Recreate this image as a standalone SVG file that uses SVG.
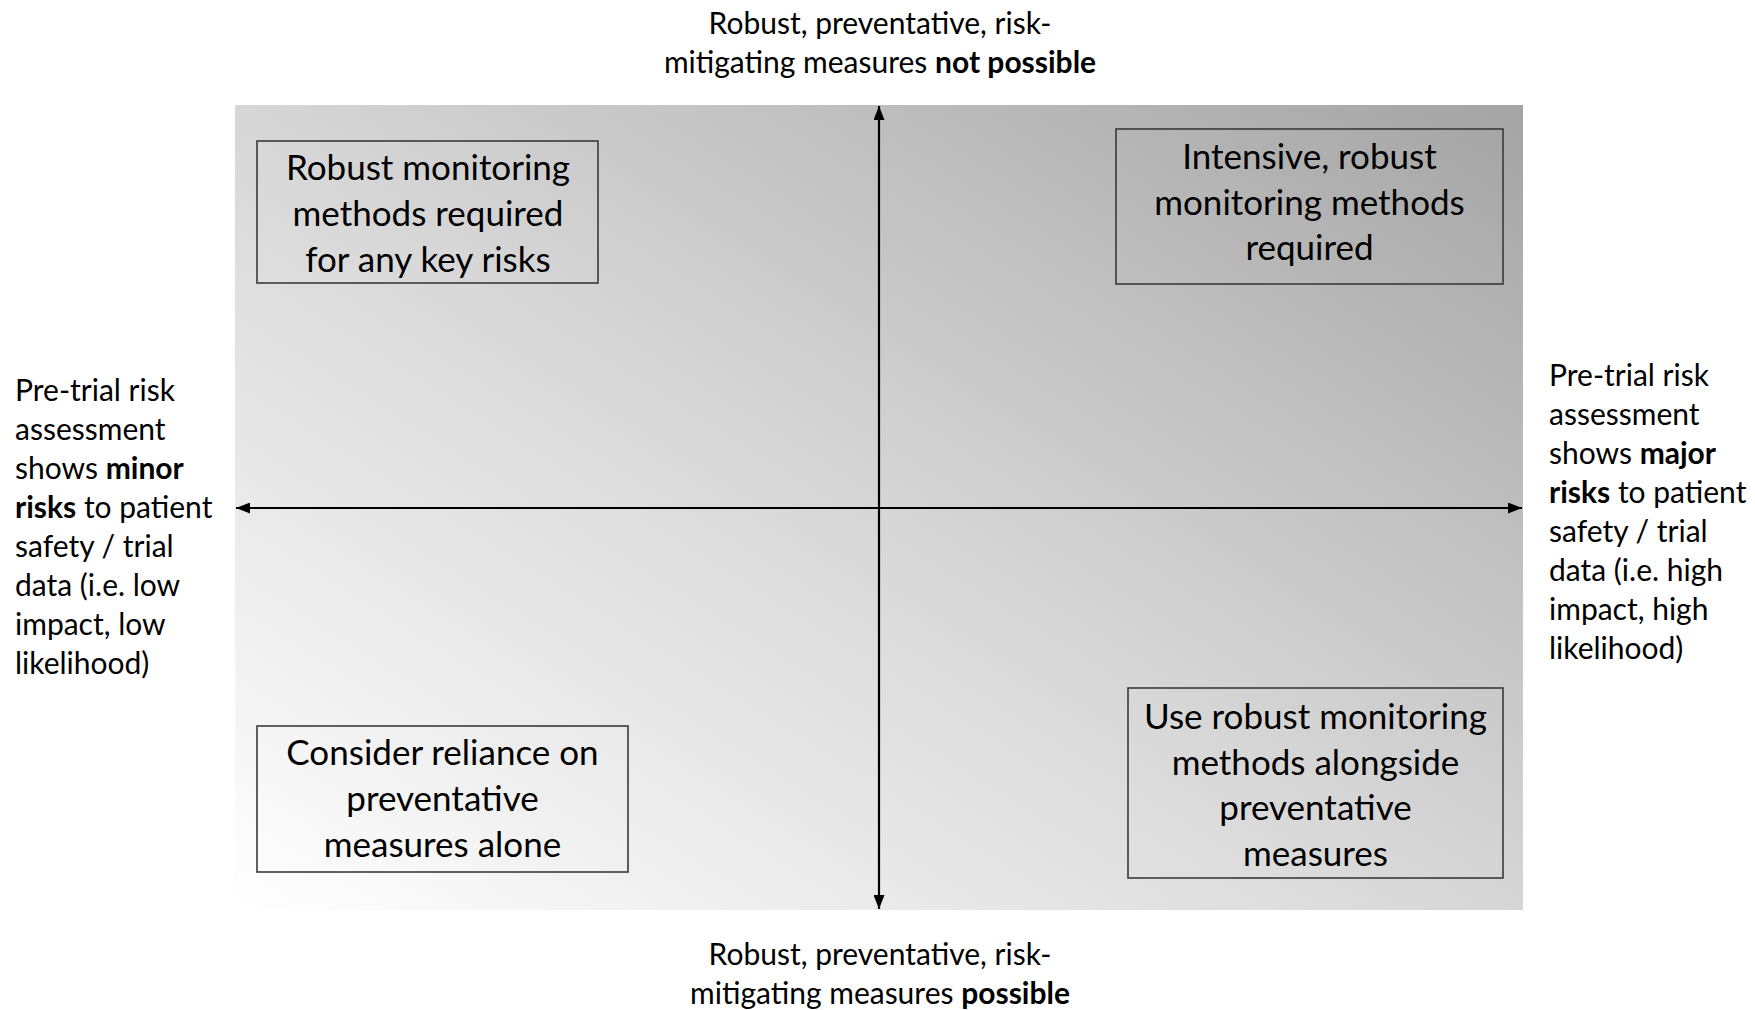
<svg xmlns="http://www.w3.org/2000/svg" width="1755" height="1010" viewBox="0 0 1755 1010">
<style>
text{font-family:Lato,"Liberation Sans",sans-serif;fill:#000}
.box{fill:none;stroke:#3a3a3a;stroke-width:1.6}
.bt{font-size:35px;text-anchor:middle}
.lab{font-size:30px}
.mid{text-anchor:middle}
.axis{stroke:#000;stroke-width:2.2;fill:none}
.b{font-weight:bold}
</style>
<defs>
<linearGradient id="bg" x1="0" y1="1" x2="1" y2="0">
<stop offset="0" stop-color="#ffffff"/>
<stop offset="0.5" stop-color="#d6d6d6"/>
<stop offset="1" stop-color="#a4a4a4"/>
</linearGradient>
<marker id="ah" viewBox="0 0 14 11" refX="14" refY="5.5" markerWidth="14" markerHeight="11" markerUnits="userSpaceOnUse" orient="auto-start-reverse">
<path d="M0,0 L14,5.5 L0,11 z" fill="#000"/>
</marker>
</defs>
<rect id="plane" x="235" y="105" width="1288" height="805" fill="url(#bg)"/>
<g id="connectors">
<line class="axis" x1="879" y1="909" x2="879" y2="106" marker-start="url(#ah)" marker-end="url(#ah)"/>
<line class="axis" x1="236" y1="508" x2="1522" y2="508" marker-start="url(#ah)" marker-end="url(#ah)"/>
</g>
<g id="top-label">
<text class="lab mid" x="880" y="34">Robust, preventative, risk-</text>
<text class="lab mid" x="880" y="73">mitigating measures <tspan class="b">not possible</tspan></text>
</g>
<g id="bottom-label">
<text class="lab mid" x="880" y="965">Robust, preventative, risk-</text>
<text class="lab mid" x="880" y="1004">mitigating measures <tspan class="b">possible</tspan></text>
</g>
<g id="left-label">
<text class="lab" x="15" y="401">Pre-trial risk</text>
<text class="lab" x="15" y="440">assessment</text>
<text class="lab" x="15" y="479">shows <tspan class="b">minor</tspan></text>
<text class="lab" x="15" y="518"><tspan class="b">risks</tspan> to patient</text>
<text class="lab" x="15" y="557">safety / trial</text>
<text class="lab" x="15" y="596">data (i.e. low</text>
<text class="lab" x="15" y="635">impact, low</text>
<text class="lab" x="15" y="674">likelihood)</text>
</g>
<g id="right-label">
<text class="lab" x="1549" y="386">Pre-trial risk</text>
<text class="lab" x="1549" y="425">assessment</text>
<text class="lab" x="1549" y="464">shows <tspan class="b">major</tspan></text>
<text class="lab" x="1549" y="503"><tspan class="b">risks</tspan> to patient</text>
<text class="lab" x="1549" y="542">safety / trial</text>
<text class="lab" x="1549" y="581">data (i.e. high</text>
<text class="lab" x="1549" y="620">impact, high</text>
<text class="lab" x="1549" y="659">likelihood)</text>
</g>
<g id="node-top-left">
<rect class="box" x="257" y="141" width="341" height="142"/>
<text class="bt" x="428" y="180">Robust monitoring</text>
<text class="bt" x="428" y="226">methods required</text>
<text class="bt" x="428" y="272">for any key risks</text>
</g>
<g id="node-top-right">
<rect class="box" x="1116" y="129" width="387" height="155"/>
<text class="bt" x="1309.5" y="169">Intensive, robust</text>
<text class="bt" x="1309.5" y="215">monitoring methods</text>
<text class="bt" x="1309.5" y="260">required</text>
</g>
<g id="node-bottom-left">
<rect class="box" x="257" y="726" width="371" height="146"/>
<text class="bt" x="442.5" y="765">Consider reliance on</text>
<text class="bt" x="442.5" y="811">preventative</text>
<text class="bt" x="442.5" y="857">measures alone</text>
</g>
<g id="node-bottom-right">
<rect class="box" x="1128" y="688" width="375" height="190"/>
<text class="bt" x="1315.5" y="729">Use robust monitoring</text>
<text class="bt" x="1315.5" y="775">methods alongside</text>
<text class="bt" x="1315.5" y="820">preventative</text>
<text class="bt" x="1315.5" y="866">measures</text>
</g>
</svg>
